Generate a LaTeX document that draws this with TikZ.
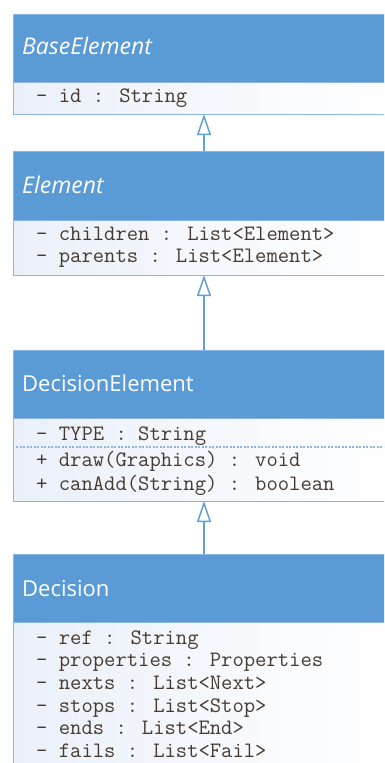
\documentclass[tikz,border=0pt]{standalone}
\usepackage{fontspec}
\setmainfont{Open Sans}
\usetikzlibrary{arrows.meta}
\definecolor{headblue}{RGB}{91,155,213}
\definecolor{edgeblue}{RGB}{141,180,226}
\definecolor{lineblue}{RGB}{98,160,216}
\definecolor{bodyleft}{RGB}{234,240,249}
\definecolor{txtbrown}{RGB}{70,58,48}
\tikzset{
  classhead/.style={rectangle, draw=edgeblue, fill=headblue, line width=1pt, inner sep=0pt, outer sep=0pt, minimum width=382pt, minimum height=68pt, anchor=north west},
  classbody/.style={rectangle, draw=edgeblue, left color=bodyleft, right color=white, line width=1pt, inner sep=0pt, outer sep=0pt, minimum width=382pt, anchor=north west},
  htext/.style={anchor=base west, inner sep=0pt, text=white, font=\fontsize{22}{24}\selectfont},
  itext/.style={htext, font=\fontsize{23}{25}\selectfont\itshape},
  mtext/.style={anchor=base west, inner sep=0pt, text=txtbrown, font=\ttfamily\fontsize{22}{24}\selectfont},
  inherit/.style={draw=lineblue, line width=1.5pt, -{Triangle[open, fill=white, length=21pt, width=14pt]}},
  sep/.style={draw=edgeblue, line width=1.5pt, dash pattern=on 2pt off 1.5pt}
}
\begin{document}
\begin{tikzpicture}[x=1pt,y=-1pt]
\useasboundingbox (0,0) rectangle (384,763);
\clip (0,0) rectangle (384,763);
\fill[white] (0,0) rectangle (384,763);
% BaseElement
\node[classhead] (h1) at (13,14) {};
\node[classbody, minimum height=32pt] (b1) at (13,82) {};
\node[itext] (t1) at (22,54) {BaseElement};
\node[mtext] (a11) at (36,102) {- id : String};
% Element
\node[classhead, minimum height=69pt] (h2) at (13,151) {};
\node[classbody, minimum height=55pt] (b2) at (13,220) {};
\node[itext] (t2) at (22,193) {Element};
\node[mtext] (a21) at (36,240.7) {- children : List<Element>};
\node[mtext] (a22) at (36,262.7) {- parents : List<Element>};
% DecisionElement
\node[classhead] (h3) at (13,350) {};
\node[classbody, minimum height=83pt] (b3) at (13,418) {};
\node[htext] (t3) at (22,391) {DecisionElement};
\node[mtext] (a31) at (36,440) {- TYPE : String};
\coordinate (s3l) at (16,447);
\coordinate (s3r) at (395,447);
\draw[sep] (s3l) -- (s3r);
\node[mtext] (m31) at (36,466.7) {+ draw(Graphics) : void};
\node[mtext] (m32) at (36,490.7) {+ canAdd(String) : boolean};
% Decision
\node[classhead] (h4) at (13,554) {};
\node[classbody, minimum height=160pt] (b4) at (13,622) {};
\node[htext] (t4) at (22,596) {Decision};
\node[mtext] (a41) at (36,644) {- ref : String};
\node[mtext] (a42) at (36,666.7) {- properties : Properties};
\node[mtext] (a43) at (36,689.4) {- nexts : List<Next>};
\node[mtext] (a44) at (36,712.1) {- stops : List<Stop>};
\node[mtext] (a45) at (36,734.8) {- ends : List<End>};
\node[mtext] (a46) at (36,757.5) {- fails : List<Fail>};
% inheritance
\draw[inherit] (h2.north) -- (b1.south);
\draw[inherit] (h3.north) -- (b2.south);
\draw[inherit] (h4.north) -- (b3.south);
\end{tikzpicture}
\end{document}
